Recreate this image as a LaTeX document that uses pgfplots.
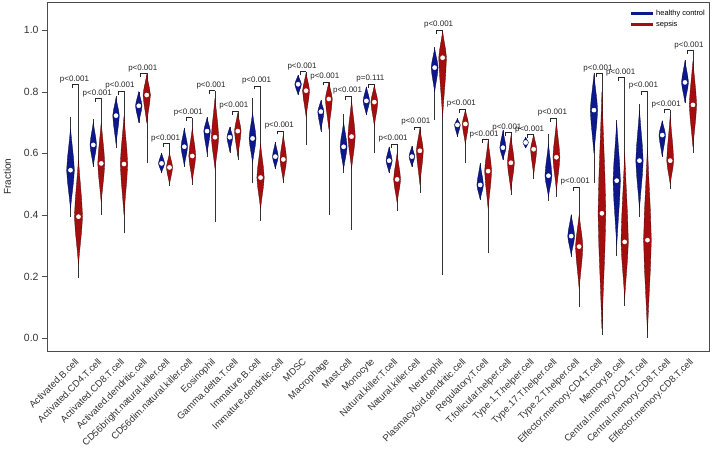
\documentclass[border=0pt]{standalone}
\usepackage{fontspec}
\setmainfont{Liberation Sans}
\usepackage{pgfplots}
\pgfplotsset{compat=1.18}
\definecolor{vblue}{RGB}{12,24,140}
\definecolor{vred}{RGB}{165,14,14}

\def\o{0.175}
% #1 x, #2 min, #3 body low, #4 median, #5 body high, #6 max, #7 half width, #8 colour
\newcommand\vio[8]{%
  \pgfmathsetmacro\xc{#1}\pgfmathsetmacro\w{0.85*#7}%
  \pgfmathsetmacro\xl{#1-\w}\pgfmathsetmacro\xr{#1+\w}%
  \pgfmathsetmacro\xla{#1-0.78*\w}\pgfmathsetmacro\xra{#1+0.78*\w}%
  \pgfmathsetmacro\xlb{#1-0.32*\w}\pgfmathsetmacro\xrb{#1+0.32*\w}%
  \pgfmathsetmacro\ya{#3+0.3*(#4-#3)}\pgfmathsetmacro\yb{#3+0.7*(#4-#3)}%
  \pgfmathsetmacro\yc{#4+0.3*(#5-#4)}\pgfmathsetmacro\yd{#4+0.7*(#5-#4)}%
  \edef\tmp{%
    \noexpand\addplot[forget plot,draw=black!80,line width=0.5pt] coordinates {(\xc,#2) (\xc,#6)};
    \noexpand\addplot[forget plot,fill=#8,draw=black!55!#8,line width=0.3pt] coordinates {(\xc,#3) (\xrb,\ya) (\xra,\yb) (\xr,#4) (\xra,\yc) (\xrb,\yd) (\xc,#5) (\xlb,\yd) (\xla,\yc) (\xl,#4) (\xla,\yb) (\xlb,\ya)} --cycle;
    \noexpand\addplot[forget plot,only marks,mark=*,mark size=2.1pt,mark options={fill=white,draw=white}] coordinates {(\xc,#4)};
  }\tmp}
% #1 group, #2 bracket height, #3 end of right leg, #4 text
\newcommand\pv[4]{%
  \pgfmathsetmacro\xa{#1-0.09}\pgfmathsetmacro\xb{#1+\o}\pgfmathsetmacro\ya{#2-0.012}%
  \edef\tmp{\noexpand\addplot[forget plot,draw=black!85,line width=0.45pt] coordinates {(\xa,\ya) (\xa,#2) (\xb,#2) (\xb,#3)};}\tmp
  \node[font=\fontsize{8}{9}\selectfont,text=black!85,anchor=south,inner sep=1.2pt] at (axis cs:#1,#2) {#4};}

\begin{document}
\begin{tikzpicture}
\begin{axis}[name=ax,scale only axis,width=662bp,height=349bp,
  xmin=-0.208,xmax=28.88,ymin=-0.042,ymax=1.091,
  axis line style={black!70},
  xtick={1,...,28},xtick style={draw=none},
  xticklabels={Activated.B.cell,Activated.CD4.T.cell,Activated.CD8.T.cell,Activated.dendritic.cell,CD56bright.natural.killer.cell,CD56dim.natural.killer.cell,Eosinophil,Gamma.delta.T.cell,Immature.B.cell,Immature.dendritic.cell,MDSC,Macrophage,Mast.cell,Monocyte,Natural.killer.T.cell,Natural.killer.cell,Neutrophil,Plasmacytoid.dendritic.cell,Regulatory.T.cell,T.follicular.helper.cell,Type.1.T.helper.cell,Type.17.T.helper.cell,Type.2.T.helper.cell,Effector.memory.CD4.T.cell,Memory.B.cell,Central.memory.CD4.T.cell,Central.memory.CD8.T.cell,Effector.memory.CD8.T.cell},
  xticklabel style={rotate=45,anchor=north east,inner sep=1pt,font=\fontsize{9.6}{11}\selectfont,text=black!80},
  ytick={0,0.2,0.4,0.6,0.8,1},
  ytick pos=left,tick align=outside,major tick length=5bp,ytick style={black!70},
  yticklabel style={font=\fontsize{10.5}{12}\selectfont,text=black!80,/pgf/number format/fixed,/pgf/number format/fixed zerofill,/pgf/number format/precision=1},
  /pgf/number format/assume math mode=true,
  ylabel={Fraction},ylabel style={font=\fontsize{10}{12}\selectfont,text=black!85,yshift=6bp},
  legend style={at={(1,1)},anchor=north east,yshift=-4bp,draw=none,fill=none,font=\fontsize{7.5}{9}\selectfont,inner sep=2pt,row sep=0pt},
  legend cell align=left,
  legend image code/.code={\draw[#1] (0bp,0bp) -- (22bp,0bp);},
]
\addlegendimage{vblue,line width=2.6pt}\addlegendentry{healthy control}
\addlegendimage{vred,line width=2.6pt}\addlegendentry{sepsis}

\vio{1-\o}{.394}{.42}{.545}{.68}{.719}{.20}{vblue}
\vio{1+\o}{.194}{.24}{.394}{.58}{.824}{.21}{vred}
\pv{1}{.824}{.824}{p<0.001}
\vio{2-\o}{.556}{.56}{.627}{.70}{.710}{.17}{vblue}
\vio{2+\o}{.399}{.44}{.567}{.70}{.778}{.18}{vred}
\pv{2}{.778}{.778}{p<0.001}
\vio{3-\o}{.616}{.63}{.722}{.78}{.786}{.17}{vblue}
\vio{3+\o}{.340}{.40}{.565}{.72}{.802}{.19}{vred}
\pv{3}{.802}{.802}{p<0.001}
\vio{4-\o}{.697}{.70}{.754}{.80}{.800}{.17}{vblue}
\vio{4+\o}{.567}{.70}{.789}{.855}{.859}{.19}{vred}
\pv{4}{.859}{.859}{p<0.001}
\vio{5-\o}{.535}{.538}{.567}{.60}{.602}{.16}{vblue}
\vio{5+\o}{.495}{.50}{.554}{.60}{.605}{.16}{vred}
\pv{5}{.632}{.605}{p<0.001}
\vio{6-\o}{.556}{.56}{.621}{.68}{.681}{.17}{vblue}
\vio{6+\o}{.497}{.51}{.591}{.68}{.716}{.18}{vred}
\pv{6}{.716}{.716}{p<0.001}
\vio{7-\o}{.589}{.60}{.672}{.715}{.719}{.17}{vblue}
\vio{7+\o}{.378}{.55}{.652}{.78}{.803}{.19}{vred}
\pv{7}{.803}{.803}{p<0.001}
\vio{8-\o}{.602}{.605}{.652}{.685}{.686}{.15}{vblue}
\vio{8+\o}{.578}{.59}{.672}{.73}{.737}{.17}{vred}
\pv{8}{.737}{.737}{p<0.001}
\vio{9-\o}{.502}{.57}{.648}{.73}{.780}{.18}{vblue}
\vio{9+\o}{.381}{.42}{.521}{.63}{.819}{.19}{vred}
\pv{9}{.819}{.819}{p<0.001}
\vio{10-\o}{.548}{.55}{.589}{.635}{.637}{.15}{vblue}
\vio{10+\o}{.502}{.51}{.580}{.66}{.673}{.17}{vred}
\pv{10}{.673}{.673}{p<0.001}
\vio{11-\o}{.789}{.79}{.824}{.853}{.854}{.17}{vblue}
\vio{11+\o}{.627}{.72}{.803}{.86}{.865}{.18}{vred}
\pv{11}{.865}{.865}{p<0.001}
\vio{12-\o}{.670}{.675}{.735}{.77}{.773}{.16}{vblue}
\vio{12+\o}{.399}{.68}{.776}{.83}{.832}{.18}{vred}
\pv{12}{.832}{.832}{p<0.001}
\vio{13-\o}{.537}{.55}{.621}{.70}{.727}{.18}{vblue}
\vio{13+\o}{.351}{.55}{.654}{.77}{.786}{.19}{vred}
\pv{13}{.786}{.786}{p<0.001}
\vio{14-\o}{.724}{.725}{.770}{.815}{.816}{.17}{vblue}
\vio{14+\o}{.600}{.69}{.766}{.82}{.825}{.18}{vred}
\pv{14}{.825}{.825}{p=0.111}
\vio{15-\o}{.535}{.537}{.576}{.62}{.621}{.16}{vblue}
\vio{15+\o}{.413}{.44}{.515}{.60}{.600}{.18}{vred}
\pv{15}{.630}{.600}{p<0.001}
\vio{16-\o}{.556}{.557}{.589}{.622}{.623}{.15}{vblue}
\vio{16+\o}{.472}{.50}{.608}{.68}{.686}{.18}{vred}
\pv{16}{.686}{.686}{p<0.001}
\vio{17-\o}{.708}{.80}{.878}{.94}{.944}{.18}{vblue}
\vio{17+\o}{.205}{.72}{.910}{.995}{1.0}{.20}{vred}
\pv{17}{1.0}{1.0}{p<0.001}
\vio{18-\o}{.654}{.655}{.692}{.712}{.713}{.15}{vblue}
\vio{18+\o}{.569}{.63}{.695}{.74}{.744}{.16}{vred}
\pv{18}{.744}{.744}{p<0.001}
\vio{19-\o}{.448}{.45}{.497}{.565}{.569}{.17}{vblue}
\vio{19+\o}{.275}{.42}{.542}{.64}{.645}{.18}{vred}
\pv{19}{.645}{.645}{p<0.001}
\vio{20-\o}{.578}{.58}{.618}{.673}{.675}{.16}{vblue}
\vio{20+\o}{.464}{.48}{.569}{.655}{.659}{.18}{vred}
\pv{20}{.668}{.659}{p<0.001}
\vio{21-\o}{.616}{.617}{.635}{.651}{.652}{.14}{vblue}
\vio{21+\o}{.515}{.53}{.613}{.66}{.662}{.16}{vred}
\pv{21}{.662}{.662}{p<0.001}
\vio{22-\o}{.445}{.46}{.527}{.63}{.664}{.18}{vblue}
\vio{22+\o}{.459}{.48}{.587}{.70}{.715}{.18}{vred}
\pv{22}{.715}{.715}{p<0.001}
\vio{23-\o}{.262}{.27}{.331}{.40}{.401}{.18}{vblue}
\vio{23+\o}{.102}{.16}{.297}{.40}{.491}{.19}{vred}
\pv{23}{.491}{.491}{p<0.001}
\vio{24-\o}{.502}{.60}{.740}{.855}{.859}{.19}{vblue}
\vio{24+\o}{.010}{.03}{.405}{.80}{.850}{.20}{vred}
\pv{24}{.859}{.850}{p<0.001}
\vio{25-\o}{.266}{.30}{.511}{.70}{.708}{.19}{vblue}
\vio{25+\o}{.104}{.13}{.312}{.60}{.846}{.19}{vred}
\pv{25}{.846}{.846}{p<0.001}
\vio{26-\o}{.394}{.42}{.576}{.74}{.760}{.19}{vblue}
\vio{26+\o}{.0}{.02}{.318}{.62}{.802}{.20}{vred}
\pv{26}{.802}{.802}{p<0.001}
\vio{27-\o}{.587}{.59}{.659}{.705}{.706}{.17}{vblue}
\vio{27+\o}{.483}{.50}{.576}{.72}{.742}{.18}{vred}
\pv{27}{.742}{.742}{p<0.001}
\vio{28-\o}{.762}{.765}{.830}{.90}{.903}{.18}{vblue}
\vio{28+\o}{.602}{.62}{.757}{.90}{.935}{.19}{vred}
\pv{28}{.935}{.935}{p<0.001}
\end{axis}
\pgfresetboundingbox
\path ([xshift=-47bp,yshift=-99bp]ax.south west) rectangle ([xshift=3bp,yshift=2bp]ax.north east);
\end{tikzpicture}
\end{document}
